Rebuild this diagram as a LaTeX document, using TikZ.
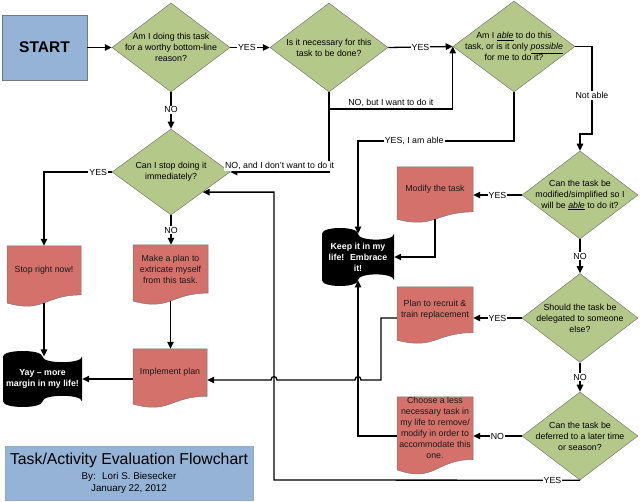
\documentclass[tikz,border=0pt]{standalone}
\usepackage{fontspec}
\setmainfont{Liberation Sans}
\usetikzlibrary{shapes.geometric,arrows.meta,calc}
\definecolor{diagreen}{RGB}{180,200,138}
\definecolor{docred}{RGB}{212,113,107}
\definecolor{startblue}{RGB}{149,179,215}
\definecolor{edgegray}{RGB}{120,120,120}

% document shape: name, x, ytop, w, h, text
\newcommand\docshape[6]{%
  \pgfmathsetmacro\dsXr{#2+#4}%
  \pgfmathsetmacro\dsXm{#2+0.5*#4}%
  \pgfmathsetmacro\dsYa{#3+0.802*#5}%
  \pgfmathsetmacro\dsYb{#3+1.107*#5}%
  \pgfmathsetmacro\dsYc{#3+0.934*#5}%
  \pgfmathsetmacro\dsYt{#3+0.4*#5}%
  \pgfmathsetmacro\dsYw{#3+0.933*#5}%
  \pgfmathsetmacro\dsH{0.8*#5}%
  \path[docbox] (#2,#3) -- (\dsXr,#3) -- (\dsXr,\dsYa) .. controls (\dsXm,\dsYa) and (\dsXm,\dsYb) .. (#2,\dsYc) -- cycle;
  \node[doctext, minimum width=#4pt, minimum height=\dsH pt] (#1) at (\dsXm,\dsYt) {#6};
  \coordinate (#1-b) at (\dsXm,\dsYw);
}
% punched tape shape: name, x, ytop, w, h, text
\newcommand\tapeshape[6]{%
  \pgfmathsetmacro\tpA{0.1*#5}%
  \pgfmathsetmacro\tpK{0.1333*#5}%
  \pgfmathsetmacro\tpXm{#2+0.5*#4}%
  \pgfmathsetmacro\tpXr{#2+#4}%
  \pgfmathsetmacro\tpYt{#3+\tpA}%
  \pgfmathsetmacro\tpYb{#3+#5-\tpA}%
  \pgfmathsetmacro\tpYc{#3+0.5*#5}%
  \pgfmathsetmacro\tpH{#5-2*\tpA}%
  \path[tapebox] (#2,\tpYt) .. controls +(0,-\tpK) and +(0,-\tpK) .. (\tpXm,\tpYt)
     .. controls +(0,\tpK) and +(0,\tpK) .. (\tpXr,\tpYt)
     -- (\tpXr,\tpYb) .. controls +(0,-\tpK) and +(0,-\tpK) .. (\tpXm,\tpYb)
     .. controls +(0,\tpK) and +(0,\tpK) .. (#2,\tpYb) -- cycle;
  \node[tapetext, minimum width=#4pt, minimum height=\tpH pt] (#1) at (\tpXm,\tpYc) {#6};
}

\begin{document}
\begin{tikzpicture}[x=1pt,y=-1pt,
  conn/.style={line width=1.3pt, draw=black},
  arr/.style={conn, -{Triangle[length=7pt,width=6.5pt]}},
  dia/.style={diamond, fill=diagreen, draw=edgegray, line width=0.5pt, inner sep=0pt},
  diatext/.style={align=center, font=\fontsize{8.8}{11}\selectfont, inner sep=0pt},
  docbox/.style={fill=docred, draw=edgegray, line width=0.5pt},
  doctext/.style={align=center, font=\fontsize{8.8}{11}\selectfont, inner sep=0pt, text=black!90},
  tapebox/.style={fill=black},
  tapetext/.style={align=center, font=\fontsize{8.8}{11}\selectfont\bfseries, text=white, inner sep=0pt},
  lab/.style={font=\fontsize{8.8}{10}\selectfont, fill=white, inner sep=1pt},
  lababove/.style={font=\fontsize{8.8}{10}\selectfont, anchor=south, inner sep=1.5pt, fill=white},
  startbox/.style={rectangle, fill=startblue, draw=edgegray, line width=0.8pt}
]
\useasboundingbox (0,0) rectangle (640,502);

% start and title
\node[startbox, minimum width=85pt, minimum height=65pt, font=\fontsize{15.5}{18}\selectfont\bfseries] (start) at (44.5,47.5) {START};
\node[rectangle, fill=startblue, draw=startblue!85!gray, line width=0.5pt, minimum width=248pt, minimum height=54pt, align=center, font=\fontsize{9.8}{12}\selectfont, inner sep=0pt] (title) at (129,473)
  {{\fontsize{15.8}{17}\selectfont Task/Activity Evaluation Flowchart}\\[3pt]By:~ Lori S. Biesecker\\January 22, 2012};

% diamonds
\node[dia, minimum width=118pt, minimum height=89pt] (d1) at (171,47.5) {};
\node[diatext] (d1t) at (d1.center) {Am I doing this task\\for a worthy bottom-line\\reason?};
\node[dia, minimum width=118pt, minimum height=89pt] (d2) at (329,47.5) {};
\node[diatext] (d2t) at (d2.center) {Is it necessary for this\\task to be done?};
\node[dia, minimum width=122pt, minimum height=91pt] (d3) at (514,46.5) {};
\node[diatext] (d3t) at (d3.center) {Am I \underline{\textit{able}} to do this\\task, or is it only \underline{\textit{possible}}\\for me to do it?};
\node[dia, minimum width=118pt, minimum height=86pt] (d4) at (171,172) {};
\node[diatext] (d4t) at (d4.center) {Can I stop doing it\\immediately?};
\node[dia, minimum width=116pt, minimum height=88pt] (d5) at (580,195) {};
\node[diatext] (d5t) at (d5.center) {Can the task be\\modified/simplified so I\\will be \underline{\textit{able}} to do it?};
\node[dia, minimum width=116pt, minimum height=89pt] (d6) at (580,318) {};
\node[diatext] (d6t) at (d6.center) {Should the task be\\delegated to someone\\else?};
\node[dia, minimum width=116pt, minimum height=88pt] (d7) at (580,436) {};
\node[diatext] (d7t) at (d7.center) {Can the task be\\deferred to a later time\\or season?};

% documents
\docshape{stop}{7}{246}{74}{61}{Stop right now!}
\docshape{plan}{133}{245}{75}{60}{Make a plan to\\extricate myself\\from this task.}
\docshape{impl}{133}{349}{74}{59}{Implement plan}
\docshape{modify}{397}{167}{76}{56}{Modify the task}
\docshape{recruit}{397}{287}{76}{57}{Plan to recruit \&\\train replacement}
\docshape{choose}{397}{397}{76}{78}{Choose a less\\necessary task in\\my life to remove/\\modify in order to\\accommodate this\\one.}

% tapes
\tapeshape{keep}{322}{228}{72}{58}{Keep it in my\\life!~ Embrace\\it!}
\tapeshape{yay}{3}{351}{79}{56}{Yay – more\\margin in my life!}

% helper coordinates
\coordinate (c1) at (592,134);
\coordinate (c1b) at (580,134);
\coordinate (c2) at (358,141);
\coordinate (n1) at (329,109);
\coordinate (r1) at (381,318);
\coordinate (r2) at (381,380);
\coordinate (h1a) at (361,380);
\coordinate (h1b) at (355,380);
\coordinate (h2a) at (277,380);
\coordinate (h2b) at (271,380);
\coordinate (c5) at (274,480);
\coordinate (d4in) at ($(d4.east)!0.465!(d4.south)$);
\coordinate (c6) at (c5 |- d4in);

% connectors
\draw[arr] (start.east) -- (d1.west);
\draw[arr] (d1.east) -- node[lab, pos=0.42] {YES} (d2.west);
\draw[arr] (d2.east) -- node[lab, pos=0.5] {YES} (d3.west);
\draw[arr] (d1.south) -- node[lab, pos=0.48] {NO} (d4.north);
\draw[arr] (d2.south) |- node[lababove, pos=0.75] {NO, and I don't want to do it} (d4.east);
\draw[arr] (n1) -| node[lababove, pos=0.25] {NO, but I want to do it} (d3.west);
\draw[arr] (d3.east) -| node[lab, pos=0.78] {Not able} (c1) -- (c1b) -- (d5.north);
\draw[arr] (d3.south) |- node[lab, pos=0.82] {YES, I am able} (c2) -- (keep.north);
\draw[arr] (d4.west) -| node[lab, pos=0.1] {YES} (stop.north);
\draw[arr] (d4.south) -- node[lab, pos=0.5] {NO} (d4.south |- plan.north);
\draw[arr] (stop-b) -- (stop-b |- yay.north);
\draw[arr] (plan-b) -- (plan-b |- impl.north);
\draw[arr] (impl.west |- yay.east) -- (yay.east);
\draw[arr] (recruit.west |- r1) -- (r1) -- (r2) -- (h1a) .. controls +(0,-4.5) and +(0,-4.5) .. (h1b) -- (h2a) .. controls +(0,-4.5) and +(0,-4.5) .. (h2b) -- (impl.east |- r2);
\draw[arr] (choose.west |- d7.west) -| (keep.south);
\draw[arr] (d5.west) -- node[lab, pos=0.5] {YES} (d5.west -| modify.east);
\draw[arr] (modify-b) |- (keep.east);
\draw[arr] (d5.south) -- node[lab, pos=0.5] {NO} (d6.north);
\draw[arr] (d6.west) -- node[lab, pos=0.5] {YES} (d6.west -| recruit.east);
\draw[arr] (d6.south) -- node[lab, pos=0.5] {NO} (d7.north);
\draw[arr] (d7.west) -- node[lab, pos=0.5] {NO} (d7.west -| choose.east);
\draw[arr] (d7.south) -- node[lab, pos=0.09] {YES} (c5) -- (c6) -- (d4in);
\end{tikzpicture}
\end{document}
